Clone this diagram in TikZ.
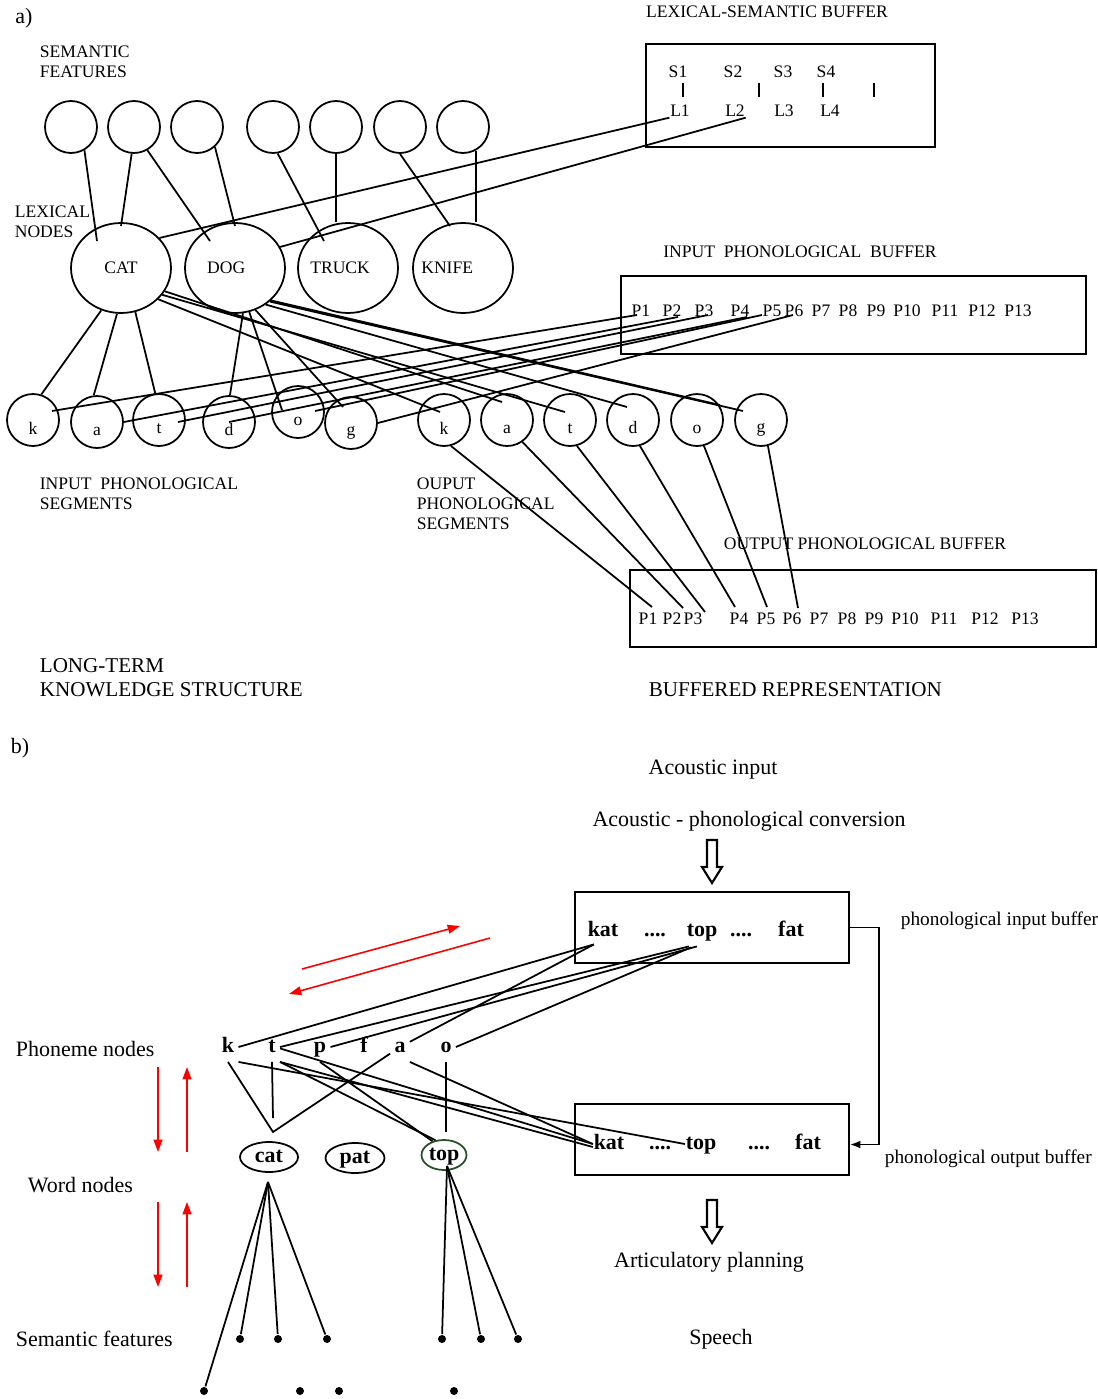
\documentclass[tikz,border=0pt]{standalone}
\usepackage{fontspec}
\setmainfont{Liberation Serif}
\usetikzlibrary{arrows.meta,calc,shapes.geometric}
\definecolor{topgreen}{RGB}{40,80,40}

\tikzset{
  txt/.style={inner sep=0pt, font=\fontsize{10}{11.3}\selectfont, align=left},
  big/.style={inner sep=0pt, font=\fontsize{12.5}{13.6}\selectfont, align=left},
  mid/.style={inner sep=0pt, font=\fontsize{11}{13}\selectfont},
  feat/.style={circle, draw, minimum size=1.04cm, inner sep=0pt},
  lex/.style={ellipse, draw, minimum width=2cm, minimum height=1.8cm, inner sep=0pt, font=\fontsize{10}{12}\selectfont},
  seg/.style={circle, draw, minimum size=1.04cm, inner sep=0pt, text height=16pt, font=\fontsize{10}{12}\selectfont},
  buf/.style={draw, inner sep=0pt},
  ph/.style={inner sep=2pt, text height=9pt, text depth=3pt, font=\fontsize{12.5}{14}\selectfont\bfseries},
  wordnode/.style={ellipse, draw, inner sep=0pt, text height=9pt, text depth=3pt, minimum height=0.6cm, font=\fontsize{12.5}{14}\selectfont\bfseries},
  sfdot/.style={circle, fill, inner sep=0pt, minimum size=0.16cm},
  redarr/.style={red, line width=0.9pt, -{Triangle[length=7pt,width=5pt]}},
}

\begin{document}
\begin{tikzpicture}[x=0.02cm, y=-0.02cm, line width=1pt]
\useasboundingbox (0,0) rectangle (1098,1399);

\node[big] (alab) at (24,18) {a)};
\node[txt, anchor=west] (semlab) at (39,62) {SEMANTIC\\FEATURES};
\node[txt, anchor=west] (lexlab) at (14,222) {LEXICAL\\NODES};
\node[txt] (lsblab) at (767,12) {LEXICAL-SEMANTIC BUFFER};
\node[txt] (ipblab) at (800,252) {INPUT\ \ PHONOLOGICAL\ \ BUFFER};
\node[txt] (opblab) at (865,544) {OUTPUT PHONOLOGICAL BUFFER};
\node[txt, anchor=west] (isglab) at (39,494) {INPUT\ \ PHONOLOGICAL\\SEGMENTS};
\node[txt, anchor=west] (osglab) at (416,504) {OUPUT\\PHONOLOGICAL\\SEGMENTS};
\node[big, font=\fontsize{12}{13.6}\selectfont, anchor=west] (ltlab) at (39,678) {LONG-TERM\\KNOWLEDGE STRUCTURE};
\node[big, font=\fontsize{12}{13.6}\selectfont, anchor=west] (brlab) at (648,690) {BUFFERED REPRESENTATION};

\node[buf, minimum width=5.78cm, minimum height=2.06cm] (lsbuf) at (790.5,95.5) {};
\node[buf, minimum width=9.3cm, minimum height=1.56cm] (ipbuf) at (853.5,315) {};
\node[buf, minimum width=9.32cm, minimum height=1.54cm] (opbuf) at (863,608.5) {};

\foreach \i/\x/\lx in {1/678/680,2/733/735,3/783/784,4/826/830} {
  \node[txt] (bs\i) at (\x,72) {S\i};
  \node[txt] (bl\i) at (\lx,111) {L\i};
}
\foreach \x in {683,759,823,874} \draw (\x,83) -- (\x,97);

\foreach \i/\x in {1/641,2/672,3/704,4/740,5/772,6/794,7/821,8/848,9/876,10/907,11/945,12/982,13/1018}
  \node[txt] (ip\i) at (\x,311) {P\i};
\foreach \i/\x in {1/648,2/672,3/693,4/739,5/766,6/792,7/819,8/847,9/874,10/905,11/944,12/985,13/1025}
  \node[txt] (op\i) at (\x,619) {P\i};

\foreach \i/\x in {1/71,2/134,3/197,4/273,5/336,6/400,7/463}
  \node[feat] (f\i) at (\x,127) {};

\node[lex] (cat) at (121,268) {CAT};
\node[lex] (dog) at (235,268) {\makebox[0pt]{DOG\kern10pt}};
\node[lex] (truck) at (348,268) {\makebox[0pt]{TRUCK\kern9pt}};
\node[lex] (knife) at (463,268) {\makebox[0pt]{KNIFE\kern18pt}};

\node[seg] (ik) at (33,420) {k};
\node[seg] (ia) at (97,422) {a};
\node[seg] (it) at (159,420) {t};
\node[seg] (id) at (229,422) {d};
\node[seg] (io) at (298,412) {o};
\node[seg] (ig) at (351,423) {g};
\foreach \n/\x in {k/444,a/507,t/570,d/633,o/697,g/761}
  \node[seg] (o\n) at (\x,420) {\n};

\draw (f1.-60) -- ($(cat)+(-24,-27)$);
\draw (f2.-95) -- ($(cat)+(0,-42)$);
\draw (f2.-60) -- ($(dog)+(-25,-27)$);
\draw (f3.-48) -- ($(dog)+(0,-42)$);
\draw (f4.-80) -- ($(truck)+(-24,-27)$);
\draw (f5.south) -- (f5.south |- truck.north);
\draw (f6.south) -- ($(knife)+(-13,-42)$);
\draw (f7.-62) -- (f7.-62 |- knife.north);

\draw (cat.38) -- (bl1.south west);
\draw (dog.25) -- (bl2.south east);

\draw (cat.245) -- (ik.72);
\draw (cat.265) -- (ia.97);
\draw (cat.288) -- (it.98);
\draw (dog.280) -- (id.88);
\draw (dog.288) -- ($(io)+(-16,-2)$);
\draw (dog.296) -- ($(ig)+(-8,-16)$);

\draw (cat.-40) -- ($(ok)+(-4,-8)$);
\draw (cat.-28) -- ($(oa)+(-5,-18)$);
\draw (cat.-33) -- ($(ot)+(-5,-8)$);
\draw (dog.-50) -- ($(od)+(-6,-13)$);
\draw (dog.-42) -- ($(oo)+(23,-15)$);
\draw (dog.-44) -- ($(og)+(-18,-9)$);

\draw ($(ik)+(19,-9)$) -- ($(ip1)+(-4,4)$);
\draw (ia.east) -- ($(ip2)+(6,6)$);
\draw ($(it)+(19,2)$) -- ($(ip3)+(4,4)$);
\draw (id.center) -- ($(ip4)+(7,6)$);
\draw ($(io)+(17,-1)$) -- ($(ip5)+(-10,4)$);
\draw (ig.east) -- ($(ip6)+(-1,4)$);

\foreach \s/\a/\p/\dx/\dy in {ok/-75/1/4/-12, oa/-55/2/11/-11, ot/-75/3/12/-7, od/-75/4/-4/-12, oo/-75/5/1/-12, og/-75/6/6/-11}
  \draw (\s.\a) -- ($(op\p)+(\dx,\dy)$);

\node[big] (blab) at (20,748) {b)};
\node[big] (acin) at (713,770) {Acoustic input};
\node[big] (conv) at (749,821) {Acoustic - phonological conversion};
\node[big] (artic) at (709,1262) {Articulatory planning};
\node[big] (speech) at (721,1339) {Speech};
\node[big, anchor=west] (phlab) at (15,1049) {Phoneme nodes};
\node[big, anchor=west] (wdlab) at (27,1185) {Word nodes};
\node[big, anchor=west] (sflab) at (15,1339) {Semantic features};
\node[mid, anchor=west] (iblab) at (900,921) {phonological input buffer};
\node[mid, anchor=west] (oblab) at (884,1159) {phonological output buffer};

\node[buf, minimum width=5.48cm, minimum height=1.42cm] (ibuf) at (712,927.5) {};
\node[buf, minimum width=5.48cm, minimum height=1.42cm] (obuf) at (712,1139.5) {};
\node[ph, inner sep=0pt] (ikat) at (603,931) {kat};
\node[ph, inner sep=0pt] (idot1) at (655,931) {....};
\node[ph, inner sep=0pt] (itop) at (702,931) {top};
\node[ph, inner sep=0pt] (idot2) at (741,931) {....};
\node[ph, inner sep=0pt] (ifat) at (791,931) {fat};
\node[ph, inner sep=0pt] (okat) at (609,1144) {kat};
\node[ph, inner sep=0pt] (odot1) at (660,1144) {....};
\node[ph, inner sep=0pt] (otop) at (701,1144) {top};
\node[ph, inner sep=0pt] (odot2) at (759,1144) {....};
\node[ph, inner sep=0pt] (ofat) at (808,1144) {fat};

\foreach \y in {840,1200}
  \draw[line width=1.2pt] (707,\y) -- ++(10,0) -- ++(0,27) -- ++(5,0) -- ++(-10,16) -- ++(-10,-16) -- ++(5,0) -- cycle;
\draw[-{Latex[length=6pt]}] (ibuf.east) -- ++(29,0) |- ([shift={(0,5)}]obuf.east);

\draw[redarr] (302,969) -- (460,926);
\draw[redarr] (490,938) -- (289,994);
\foreach \y in {1067,1202} {
  \draw[redarr] (158,\y) -- (158,\y+85);
  \draw[redarr] (187,\y+85) -- (187,\y);
}

\foreach \n/\x in {k/228,t/272,p/320,f/364,a/400,o/446}
  \node[ph] (p\n) at (\x,1047) {\n};

\node[wordnode, minimum width=1.16cm] (wcat) at (269,1157) {cat};
\node[wordnode, minimum width=1.18cm] (wpat) at (355,1158) {pat};
\node[wordnode, draw=topgreen, minimum width=0.9cm] (wtop) at (444,1155) {top};

\coordinate (catj) at (273,1132);
\coordinate (catv) at (273,1118);
\coordinate (catb) at (268,1182);
\coordinate (topb) at (447,1166);

\draw (pk.south) -- (catj) -- (pa) -- ([shift={(7,2)}]ikat.south west);
\draw (pt.south) -- (catv);
\draw (pk.east) -- ([shift={(7,2)}]ikat.south west);
\draw (pt.east) -- ([shift={(3,4)}]itop.south west);
\draw (pp.east) -- ([shift={(11,4)}]itop.south west);
\draw (po.east) -- ([shift={(5,5)}]itop.south west);
\draw (pt.south east) -- (wtop.120);
\draw (pp.south) -- (wtop.130);
\draw (po.south) -- ([shift={(0,-7)}]po.south |- wtop.north);
\draw (pk.south east) -- (otop.west);
\draw (pt.-10) -- (okat.west);
\draw (pt.south east) -- ([shift={(0,3)}]okat.west);
\draw (pa.south east) -- (okat.west);

\foreach \i/\x/\y in {1/240/1339,2/278/1339,3/327/1339,4/442/1339,5/481/1339,6/518/1339,7/204/1391,8/300/1391,9/339/1391,10/454/1391}
  \node[sfdot] (sf\i) at (\x,\y) {};
\foreach \i in {1,2,3,7} \draw (catb) -- (sf\i);
\foreach \i in {4,5,6} \draw (topb) -- (sf\i);

\end{tikzpicture}
\end{document}
